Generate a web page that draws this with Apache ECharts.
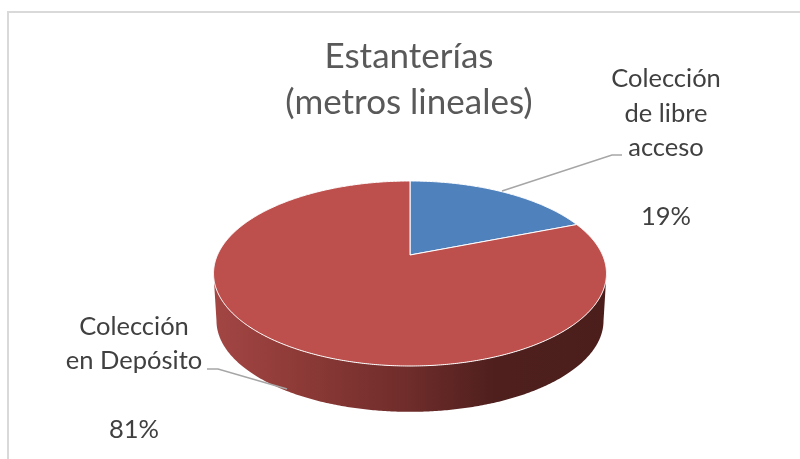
<!DOCTYPE html>
<html><head><meta charset="utf-8">
<style>html,body{margin:0;padding:0;background:#fff}#c{width:800px;height:459px}</style>
<script src="https://cdn.jsdelivr.net/npm/echarts@6/dist/echarts.min.js"></script>
</head><body><div id="c"></div>
<script>
var titleText = 'Estanterías\n(metros lineales)';
var categories = ['Colección\nde libre\nacceso', 'Colección\nen Depósito'];
var shares = [19, 81];
var sliceColors = ['#4f81bd', '#bd4f4c'];

// layout only
var PIE = {cx: 410, cy: 255, kx: 192.5, ky: 88.8, p: 0.2, depth: 47.5, bottomScale: 0.985};
var LABEL_POS = [[666, 61.5], [134, 309]];
var LEADERS = [
  [[502, 191], [612, 155], [622, 155]],
  [[287, 389], [218, 369], [207, 369]]
];
var total = shares.reduce(function (a, b) { return a + b; }, 0);

function rim(deg, low) {
  var t = deg * Math.PI / 180, u = Math.sin(t), v = Math.cos(t), s = 1 / (1 + PIE.p * v);
  var k = low ? PIE.bottomScale : 1;
  return [PIE.cx + PIE.kx * k * u * s, PIE.cy - PIE.ky * k * v * s + (low ? PIE.depth : 0)];
}
function arc(a, b, low) {
  var pts = [], n = Math.max(2, Math.ceil(Math.abs(b - a) * 2));
  for (var i = 0; i <= n; i++) pts.push(rim(a + (b - a) * i / n, low));
  return pts;
}
var VIS = [Math.acos(-PIE.p) * 180 / Math.PI, 360 - Math.acos(-PIE.p) * 180 / Math.PI];

var chart = echarts.init(document.getElementById('c'), null, {renderer: 'canvas'});
chart.setOption({
  animation: false,
  backgroundColor: '#ffffff',
  title: {
    text: titleText, left: 404, top: 29, textAlign: 'center',
    textStyle: {fontFamily: 'Lato', fontWeight: 'normal', fontSize: 35, lineHeight: 46, color: '#595959'}
  },
  graphic: [{
    type: 'rect', silent: true, z: -1,
    shape: {x: 8, y: 12, width: 900, height: 600},
    style: {fill: 'none', stroke: '#d9d9d9', lineWidth: 2}
  }],
  series: [{
    type: 'custom',
    coordinateSystem: 'none',
    data: shares.map(function (v, i) { return {name: categories[i], value: [i, v]}; }),
    renderItem: function (params, api) {
      var i = api.value(0), v = api.value(1);
      var start = 0;
      for (var j = 0; j < i; j++) start += shares[j];
      var a0 = start / total * 360, a1 = (start + v) / total * 360;
      var children = [];
      var w0 = Math.max(a0, VIS[0]), w1 = Math.min(a1, VIS[1]);
      if (w1 > w0) {
        var wall = arc(w0, w1, false).concat(arc(w1, w0, true));
        children.push({
          type: 'polygon', shape: {points: wall},
          style: {
            fill: {type: 'linear', x: 0, y: 0, x2: 1, y2: 0, colorStops: [
              {offset: 0, color: '#a34644'},
              {offset: 0.2, color: '#8f3b38'},
              {offset: 0.5, color: '#6e2c2a'},
              {offset: 0.72, color: '#4e1f1d'},
              {offset: 1, color: '#4b1e1c'}
            ]},
            stroke: null
          }
        });
      }
      children.push({
        type: 'polygon', shape: {points: [[PIE.cx, PIE.cy]].concat(arc(a0, a1, false))},
        style: {fill: sliceColors[i], stroke: '#ffffff', lineWidth: 1, lineJoin: 'round'}
      });
      children.push({
        type: 'polyline', shape: {points: LEADERS[i]},
        style: {fill: null, stroke: '#a6a6a6', lineWidth: 1.5}
      });
      children.push({
        type: 'text',
        style: {
          x: LABEL_POS[i][0], y: LABEL_POS[i][1], align: 'center', verticalAlign: 'top',
          text: categories[i] + '\n\n' + Math.round(v / total * 100) + '%',
          fontFamily: 'Lato', fontSize: 25.5, lineHeight: 34.6, fill: '#404040'
        }
      });
      return {type: 'group', children: children};
    }
  }]
});
</script></body></html>
